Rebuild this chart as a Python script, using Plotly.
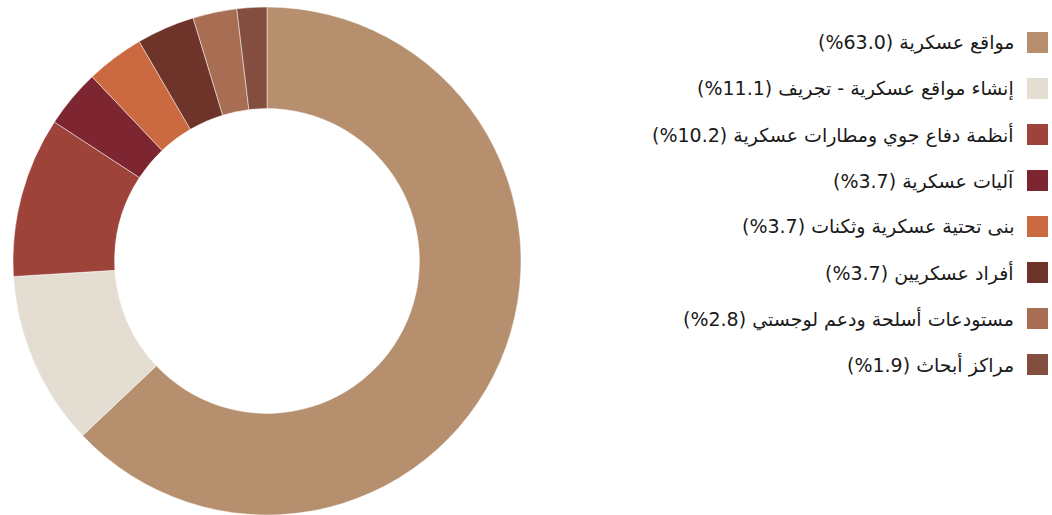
import plotly.graph_objects as go

labels = [
    "مواقع عسكرية",
    "إنشاء مواقع عسكرية - تجريف",
    "أنظمة دفاع جوي ومطارات عسكرية",
    "آليات عسكرية",
    "بنى تحتية عسكرية وثكنات",
    "أفراد عسكريين",
    "مستودعات أسلحة ودعم لوجستي",
    "مراكز أبحاث",
]
values = [63.0, 11.1, 10.2, 3.7, 3.7, 3.7, 2.8, 1.9]
colors = ["#B58F6E", "#E4DED2", "#9D433A", "#7D2530", "#CB6A40", "#6E3329", "#A86E54", "#834D40"]

W, H = 1052, 515

fig = go.Figure()
fig.add_trace(go.Pie(
    labels=labels,
    values=values,
    hole=0.6,
    sort=False,
    direction="clockwise",
    rotation=0,
    textinfo="none",
    hoverinfo="label+percent",
    marker=dict(colors=colors, line=dict(color="rgba(255,255,255,0.6)", width=0.8)),
    domain=dict(x=[8 / W, 526 / W], y=[0, 1 - 7 / H]),
    showlegend=False,
))

# custom right-to-left legend (marker on the right of the text)
shapes = []
annotations = []
for i, (lab, val, col) in enumerate(zip(labels, values, colors)):
    yc = 42.5 + 46 * i
    shapes.append(dict(
        type="rect", xref="paper", yref="paper",
        x0=1027 / W, x1=1048 / W,
        y0=1 - (yc + 10.5) / H, y1=1 - (yc - 10.5) / H,
        fillcolor=col, line=dict(width=0),
    ))
    annotations.append(dict(
        xref="paper", yref="paper",
        x=1016 / W, y=1 - yc / H,
        xanchor="right", yanchor="middle",
        text=f"{lab} ({val:.1f}%)",
        showarrow=False,
        font=dict(size=19, color="#1a1a1a", family="DejaVu Sans, Noto Sans"),
    ))

fig.update_layout(
    width=W, height=H,
    margin=dict(l=0, r=0, t=0, b=0),
    paper_bgcolor="white",
    plot_bgcolor="white",
    shapes=shapes,
    annotations=annotations,
)

fig.write_html("out.html")
